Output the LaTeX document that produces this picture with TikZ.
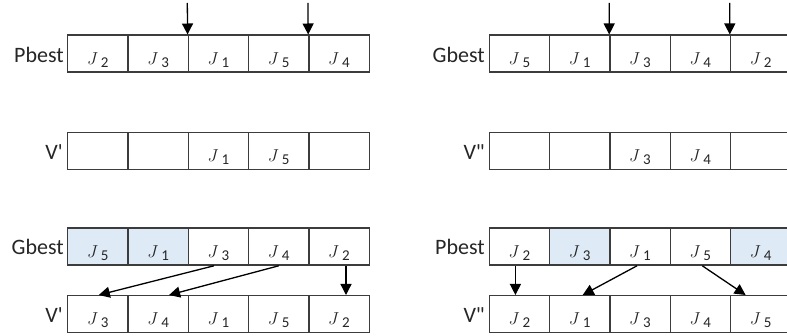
\documentclass[tikz,border=0pt]{standalone}
\usepackage{fontspec}
\setmainfont{Carlito}
\usetikzlibrary{arrows.meta,calc}
\definecolor{edge}{HTML}{3C3C3C}
\definecolor{hl}{HTML}{DEEBF7}
% job symbol: italic J with a lowered index
\newcommand{\jb}[1]{{\fontsize{19}{19}\selectfont$J$}\kern3pt\raisebox{-3pt}{\fontsize{15}{15}\selectfont #1}}
% one row of five cells: #1 name prefix, #2 left x, #3 top y, #4 list fill/text
\newcommand{\cellrow}[4]{%
  \foreach \f/\t [count=\i] in {#4} {
    \node[cell, fill=\f] (#1\i) at ({#2+(\i-1)*60.3}, #3) {\t};
  }}
\tikzset{
  cell/.style={draw=edge, line width=1.3pt, minimum width=60.3pt, minimum height=37pt,
    inner sep=0pt, anchor=north west, text height=21pt, text depth=0pt, text=black!85},
  rowlabel/.style={anchor=base east, inner sep=0pt, font=\fontsize{22}{22}\selectfont, text=black!85},
  arr/.style={draw=black, line width=1.3pt, -{Triangle[length=11pt,width=11pt]}}
}
\begin{document}
\begin{tikzpicture}[x=1pt,y=-1pt]
\useasboundingbox (0,0) rectangle (787,336);

% left panel
\cellrow{Lp}{67}{34.5}{white/\jb{2}, white/\jb{3}, white/\jb{1}, white/\jb{5}, white/\jb{4}}
\cellrow{Lm}{67}{132}{white/{}, white/{}, white/\jb{1}, white/\jb{5}, white/{}}
\cellrow{Lg}{67}{227.5}{hl/\jb{5}, hl/\jb{1}, white/\jb{3}, white/\jb{4}, white/\jb{2}}
\cellrow{Lv}{67}{295}{white/\jb{3}, white/\jb{4}, white/\jb{1}, white/\jb{5}, white/\jb{2}}

\node[rowlabel] (lPb) at (64,62.5) {Pbest};
\node[rowlabel] (lV1) at (63,159.5) {V\textquotesingle};
\node[rowlabel] (lGb) at (64,255) {Gbest};
\node[rowlabel] (lV2) at (63,322.5) {V\textquotesingle};

% right panel
\cellrow{Rg}{488.6}{34.5}{white/\jb{5}, white/\jb{1}, white/\jb{3}, white/\jb{4}, white/\jb{2}}
\cellrow{Rm}{488.6}{132}{white/{}, white/{}, white/\jb{3}, white/\jb{4}, white/{}}
\cellrow{Rb}{488.6}{227.5}{white/\jb{2}, hl/\jb{3}, white/\jb{1}, white/\jb{5}, hl/\jb{4}}
\cellrow{Rv}{488.6}{295}{white/\jb{2}, white/\jb{1}, white/\jb{3}, white/\jb{4}, white/\jb{5}}

\node[rowlabel] (rGb) at (485,62.5) {Gbest};
\node[rowlabel] (rV1) at (485,159.5) {V\textquotedbl};
\node[rowlabel] (rPb) at (485,255) {Pbest};
\node[rowlabel] (rV2) at (485,322.5) {V\textquotedbl};

% cut points
\coordinate (cL1) at (187.3,3);
\coordinate (cL2) at (307.9,3);
\coordinate (cR1) at (609.2,3);
\coordinate (cR2) at (729.8,3);
\draw[arr] (cL1) -- (Lp3.north west);
\draw[arr] (cL2) -- (Lp5.north west);
\draw[arr] (cR1) -- (Rg3.north west);
\draw[arr] (cR2) -- (Rg5.north west);

% moves into the new sequences
\draw[arr] ($(Lg3.south)+(-4.5,0)$) -- ($(Lv1.north)+(1,0)$);
\draw[arr] (Lg4.south) -- ($(Lv2.north)+(11,0)$);
\draw[arr] ($(Lg5.south)+(7,0)$) -- ($(Lv5.north)+(7,0)$);

\draw[arr] ($(Rb1.south)+(-4,0)$) -- ($(Rv1.north)+(-4,0)$);
\draw[arr] ($(Rb3.south)+(-3,0)$) -- ($(Rv2.north)+(3,0)$);
\draw[arr] ($(Rb4.south)+(2,0)$) -- ($(Rv5.north)+(-15,0)$);
\end{tikzpicture}
\end{document}
